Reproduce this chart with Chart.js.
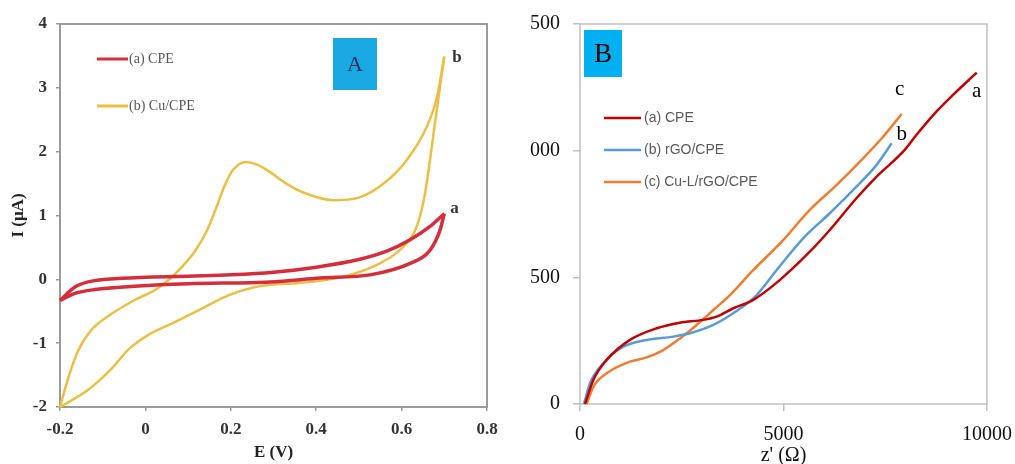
<!DOCTYPE html>
<html>
<head>
<meta charset="utf-8">
<script src="https://cdn.jsdelivr.net/npm/chart.js@4.4.1/dist/chart.umd.min.js"></script>
<style>
  html, body { margin: 0; padding: 0; background: #fff; }
  #wrap { position: relative; width: 1015px; height: 464px; overflow: hidden; background: #fff; }
  #cvA { position: absolute; left: 0; top: 0; filter: blur(0.6px); }
  #boxB { position: absolute; left: 530px; top: 0; width: 485px; height: 464px; overflow: hidden; }
  #cvB { position: absolute; left: -30px; top: 0; }
</style>
</head>
<body>
<div id="wrap">
  <canvas id="cvA" width="530" height="464"></canvas>
  <div id="boxB"><canvas id="cvB" width="515" height="464"></canvas></div>
</div>
<script>
// ---------- Panel A: cyclic voltammograms, [E (V), I (µA)] ----------
const cvLabels = ['(a) CPE', '(b) Cu/CPE'];
const cvTags = ['a', 'b'];
const cvColors = ['#d42e3c', '#eabf45'];

const cpeForward = [
  [-0.2, -0.33], [-0.165, -0.12], [-0.134, -0.04], [-0.056, 0.016], [0.1, 0.05],
  [0.2, 0.07], [0.3, 0.11], [0.4, 0.19], [0.5, 0.31], [0.565, 0.44], [0.62, 0.62],
  [0.665, 0.82], [0.7, 1.03]
];
const cpeReverse = [
  [0.7, 1.03], [0.69, 0.77], [0.667, 0.46], [0.62, 0.25], [0.526, 0.07], [0.409, 0.02],
  [0.292, -0.04], [0.1, -0.07], [-0.017, -0.105], [-0.118, -0.16], [-0.165, -0.22], [-0.2, -0.33]
];
const cuForward = [
  [-0.2, -2.0], [-0.18, -1.53], [-0.157, -1.11], [-0.126, -0.79], [-0.079, -0.54],
  [-0.024, -0.32], [0.022, -0.17], [0.054, -0.01], [0.085, 0.19], [0.116, 0.44],
  [0.144, 0.76], [0.167, 1.14], [0.185, 1.46], [0.206, 1.72], [0.235, 1.84],
  [0.26, 1.8], [0.292, 1.68], [0.33, 1.5], [0.37, 1.36], [0.44, 1.24], [0.5, 1.28],
  [0.558, 1.5], [0.61, 1.85], [0.659, 2.39], [0.683, 2.86], [0.7, 3.49]
];
const cuReverse = [
  [0.7, 3.49], [0.691, 3.07], [0.675, 2.29], [0.655, 1.35], [0.635, 0.82], [0.604, 0.51],
  [0.549, 0.25], [0.463, 0.04], [0.354, -0.06], [0.3, -0.08], [0.257, -0.12], [0.194, -0.25],
  [0.132, -0.46], [0.069, -0.67], [0.007, -0.87], [-0.04, -1.1], [-0.079, -1.4],
  [-0.134, -1.73], [-0.2, -2.0]
];
const eTicks = { min: -0.2, max: 0.8, step: 0.2 };
const iTicks = { min: -2, max: 4, step: 1 };

// ---------- Panel B: Nyquist plots, [Z' (Ω), -Z'' (Ω)] ----------
const eisLabels = ['(a) CPE', '(b) rGO/CPE', '(c) Cu-L/rGO/CPE'];
const eisTags = ['a', 'b', 'c'];
const eisColors = ['#c00000', '#5b9bd5', '#ed7d31'];

const eisCPE = [
  [123, 0], [327, 95], [655, 174], [1228, 253], [1884, 299], [2457, 321], [3030, 332],
  [3358, 345], [3767, 378], [4259, 411], [4914, 490], [5646, 601], [6137, 687],
  [6792, 812], [7283, 897], [7938, 996], [8265, 1062], [8756, 1154], [9165, 1220], [9747, 1308]
];
const eisRGO = [
  [98, 0], [246, 82], [573, 161], [1065, 226], [1638, 253], [2293, 266], [2703, 279],
  [3275, 312], [3767, 358], [4341, 430], [4832, 529], [5483, 654], [6137, 753],
  [6792, 858], [7283, 943], [7658, 1029]
];
const eisCuL = [
  [164, 0], [327, 68], [655, 121], [1228, 167], [1638, 184], [2047, 213], [2457, 259],
  [2867, 312], [3276, 371], [3686, 430], [4259, 529], [4992, 647], [5646, 766],
  [6301, 864], [6956, 970], [7447, 1055], [7904, 1145]
];
const zTicks = { min: 0, max: 10000, step: 5000 };
const zImTicks = { min: 0, max: 1500, step: 500 };

const toXY = arr => arr.map(([x, y]) => ({ x, y }));

// ---------- shared helpers ----------
function framePlugin(color, width) {
  return {
    id: 'frame',
    beforeDatasetsDraw(chart) {
      const { left, top, right, bottom } = chart.chartArea;
      const ctx = chart.ctx;
      ctx.save();
      ctx.strokeStyle = color;
      ctx.lineWidth = width;
      ctx.strokeRect(left, top, right - left, bottom - top);
      ctx.restore();
    }
  };
}

function badge(ctx, x, y, w, h, fill, text, font, color) {
  ctx.save();
  ctx.fillStyle = fill;
  ctx.fillRect(x, y, w, h);
  ctx.fillStyle = color;
  ctx.font = font;
  ctx.textAlign = 'center';
  ctx.textBaseline = 'middle';
  ctx.fillText(text, x + w / 2, y + h / 2 + 1);
  ctx.restore();
}

const fitX = h => s => { s.height = h; s.paddingLeft = 0; s.paddingRight = 0; };
const fitY = w => s => { s.width = w; s.paddingTop = 0; s.paddingBottom = 0; };

// ---------- Panel A chart ----------
const serif = "'Liberation Serif', 'DejaVu Serif', serif";

const cvDecor = {
  id: 'cvDecor',
  afterDatasetsDraw(chart) {
    const ctx = chart.ctx;
    const ca = chart.chartArea;
    const xs = chart.scales.x, ys = chart.scales.y;
    // legend
    ctx.save();
    ctx.font = '14px ' + serif;
    ctx.textBaseline = 'middle';
    cvLabels.forEach((lab, i) => {
      const y = ca.top + 35 + i * 47;
      ctx.strokeStyle = cvColors[i];
      ctx.lineWidth = 3;
      ctx.beginPath();
      ctx.moveTo(ca.left + 37, y);
      ctx.lineTo(ca.left + 68, y);
      ctx.stroke();
      ctx.fillStyle = '#555';
      ctx.fillText(lab, ca.left + 69, y);
    });
    // curve tags at the switching potential
    const ends = [cpeForward[cpeForward.length - 1], cuForward[cuForward.length - 1]];
    const offs = [[6, -5], [8, 1]];
    ctx.font = 'bold 17px ' + serif;
    ctx.fillStyle = '#333';
    ctx.textAlign = 'left';
    ends.forEach((p, i) => {
      ctx.fillText(cvTags[i], xs.getPixelForValue(p[0]) + offs[i][0], ys.getPixelForValue(p[1]) + offs[i][1]);
    });
    ctx.restore();
    badge(ctx, ca.left + 273, ca.top + 14, 44, 52, '#1aa8e2', 'A', '22px ' + serif, '#1c2d5c');
  }
};

new Chart(document.getElementById('cvA'), {
  type: 'scatter',
  data: {
    datasets: [
      { label: cvLabels[0], data: toXY(cpeForward), borderColor: cvColors[0], borderWidth: 3.5 },
      { label: cvLabels[0], data: toXY(cpeReverse), borderColor: cvColors[0], borderWidth: 3.5 },
      { label: cvLabels[1], data: toXY(cuForward), borderColor: cvColors[1], borderWidth: 2.5 },
      { label: cvLabels[1], data: toXY(cuReverse), borderColor: cvColors[1], borderWidth: 2.5 }
    ].map(d => Object.assign(d, { showLine: true, pointRadius: 0, cubicInterpolationMode: 'monotone',
                                  fill: false, clip: 4 }))
  },
  options: {
    responsive: false,
    animation: false,
    layout: { padding: { left: 0, top: 24, right: 43, bottom: 0 } },
    plugins: { legend: { display: false }, tooltip: { enabled: false } },
    scales: {
      x: {
        type: 'linear', min: eTicks.min, max: eTicks.max,
        afterFit: fitX(57),
        border: { display: false },
        grid: { drawOnChartArea: false, drawTicks: true, tickLength: 4, color: '#999', lineWidth: 1.5 },
        ticks: {
          stepSize: eTicks.step, padding: 8, color: '#333',
          font: { family: serif, size: 17, weight: 'bold' },
          callback: v => String(+v.toFixed(1))
        },
        title: { display: true, text: 'E (V)', color: '#222', padding: { top: 0, bottom: 2 },
                 font: { family: serif, size: 17, weight: 'bold', lineHeight: 1.1 } }
      },
      y: {
        type: 'linear', min: iTicks.min, max: iTicks.max,
        afterFit: fitY(60),
        border: { display: false },
        grid: { drawOnChartArea: false, drawTicks: true, tickLength: 4, color: '#999', lineWidth: 1.5 },
        ticks: {
          stepSize: iTicks.step, padding: 9, color: '#333',
          font: { family: serif, size: 17, weight: 'bold' }
        },
        title: { display: true, text: 'I (μA)', color: '#222', padding: { top: 9, bottom: 0 },
                 font: { family: serif, size: 17, weight: 'bold', lineHeight: 1.1 } }
      }
    }
  },
  plugins: [framePlugin('#9a9a9a', 2), cvDecor]
});

// ---------- Panel B chart ----------
const sans = "'Liberation Sans', Arial, sans-serif";

const eisDecor = {
  id: 'eisDecor',
  afterDatasetsDraw(chart) {
    const ctx = chart.ctx;
    const ca = chart.chartArea;
    const xs = chart.scales.x, ys = chart.scales.y;
    ctx.save();
    ctx.font = '14px ' + sans;
    ctx.textBaseline = 'middle';
    eisLabels.forEach((lab, i) => {
      const y = ca.top + 94 + i * 32;
      ctx.strokeStyle = eisColors[i];
      ctx.lineWidth = 2.5;
      ctx.beginPath();
      ctx.moveTo(ca.left + 24, y);
      ctx.lineTo(ca.left + 61, y);
      ctx.stroke();
      ctx.fillStyle = '#595959';
      ctx.fillText(lab, ca.left + 64, y);
    });
    const ends = [eisCPE[eisCPE.length - 1], eisRGO[eisRGO.length - 1], eisCuL[eisCuL.length - 1]];
    const offs = [[0, 19], [10, -9], [-2, -24]];
    ctx.font = '21px ' + serif;
    ctx.fillStyle = '#000';
    ctx.textAlign = 'center';
    ends.forEach((p, i) => {
      ctx.fillText(eisTags[i], xs.getPixelForValue(p[0]) + offs[i][0], ys.getPixelForValue(p[1]) + offs[i][1]);
    });
    ctx.restore();
    badge(ctx, ca.left + 4, ca.top + 6, 38, 47, '#00b0f0', 'B', '27px ' + serif, '#000');
  }
};

new Chart(document.getElementById('cvB'), {
  type: 'scatter',
  data: {
    datasets: [
      { label: eisLabels[0], data: toXY(eisCPE), borderColor: eisColors[0] },
      { label: eisLabels[1], data: toXY(eisRGO), borderColor: eisColors[1] },
      { label: eisLabels[2], data: toXY(eisCuL), borderColor: eisColors[2] }
    ].map(d => Object.assign(d, { showLine: true, pointRadius: 0, borderWidth: 2.5,
                                  cubicInterpolationMode: 'monotone', fill: false, clip: 4 }))
  },
  options: {
    responsive: false,
    animation: false,
    layout: { padding: { left: 0, top: 24, right: 28, bottom: 0 } },
    plugins: { legend: { display: false }, tooltip: { enabled: false } },
    scales: {
      x: {
        type: 'linear', min: zTicks.min, max: zTicks.max,
        afterFit: fitX(60),
        border: { display: false },
        grid: { drawOnChartArea: false, drawTicks: true, tickLength: 7, color: '#c0c0c0', lineWidth: 1.5 },
        ticks: { stepSize: zTicks.step, padding: 12, color: '#111', font: { family: serif, size: 20 },
                 callback: v => String(v) },
        title: { display: true, text: "z' (Ω)", color: '#111', padding: 0,
                 font: { family: serif, size: 20, lineHeight: 0.8 } }
      },
      y: {
        type: 'linear', min: zImTicks.min, max: zImTicks.max,
        afterFit: fitY(80),
        border: { display: false },
        grid: { drawOnChartArea: false, drawTicks: true, tickLength: 7, color: '#c0c0c0', lineWidth: 1.5 },
        ticks: { stepSize: zImTicks.step, padding: 13, color: '#111', font: { family: serif, size: 20 },
                 callback: v => String(v) }
      }
    }
  },
  plugins: [framePlugin('#c0c0c0', 1.5), eisDecor]
});
</script>
</body>
</html>
